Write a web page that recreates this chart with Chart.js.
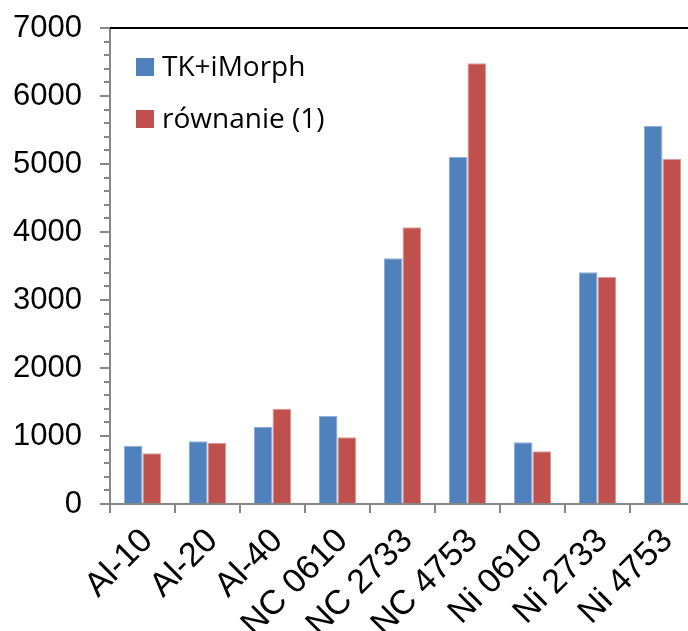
<!DOCTYPE html>
<html>
<head>
<meta charset="utf-8">
<script src="https://cdn.jsdelivr.net/npm/chart.js@4"></script>
<style>
  html, body { margin: 0; padding: 0; background: #fff; overflow: hidden; }
  #wrap { width: 688px; height: 631px; overflow: hidden; }
</style>
</head>
<body>
<div id="wrap"><canvas id="chart" width="700" height="631"></canvas></div>
<script>
// data
const categories = ["Al-10", "Al-20", "Al-40", "NC 0610", "NC 2733", "NC 4753", "Ni 0610", "Ni 2733", "Ni 4753"];
const tkMorph = [857, 922, 1132, 1294, 3613, 5103, 907, 3407, 5559];
const rownanie = [745, 901, 1401, 981, 4069, 6481, 775, 3338, 5078];
const seriesNames = ["TK+iMorph", "równanie (1)"];
const yTicks = [0, 1000, 2000, 3000, 4000, 5000, 6000, 7000];

const axisGrey = "#868686";
const tickFont = { family: "'Liberation Sans', Arial, sans-serif", size: 31 };

// minor ticks on y axis, top frame line and the legend inside the plot
const extras = {
  id: "extras",
  afterDraw(chart) {
    const ctx = chart.ctx;
    const area = chart.chartArea;
    const y = chart.scales.y;
    ctx.save();
    ctx.strokeStyle = axisGrey;
    ctx.lineWidth = 2;
    for (let v = 0; v <= 7000; v += 200) {
      if (v % 1000 === 0) continue;
      const py = Math.round(y.getPixelForValue(v));
      ctx.beginPath();
      ctx.moveTo(area.left - 6, py);
      ctx.lineTo(area.left, py);
      ctx.stroke();
    }
    // top frame
    ctx.strokeStyle = "#000";
    ctx.lineWidth = 2;
    ctx.beginPath();
    ctx.moveTo(area.left, area.top);
    ctx.lineTo(chart.width, area.top);
    ctx.stroke();

    // legend
    ctx.font = "28px 'Open Sans', sans-serif";
    ctx.textBaseline = "middle";
    chart.data.datasets.forEach((ds, i) => {
      const bx = area.left + 26;
      const by = area.top + 30 + i * 52;
      ctx.fillStyle = ds.backgroundColor;
      ctx.fillRect(bx, by, 18, 18);
      ctx.fillStyle = "#000";
      ctx.fillText(ds.label, bx + 26, by + 10);
    });
    ctx.restore();
  }
};

new Chart(document.getElementById("chart"), {
  type: "bar",
  data: {
    labels: categories,
    datasets: [
      { label: seriesNames[0], data: tkMorph, backgroundColor: "#4F81BD", borderColor: "#8EAEDB", borderWidth: 1, borderSkipped: "bottom" },
      { label: seriesNames[1], data: rownanie, backgroundColor: "#C0504D", borderColor: "#DE9A98", borderWidth: 1, borderSkipped: "bottom" }
    ]
  },
  options: {
    responsive: false,
    animation: false,
    devicePixelRatio: 1,
    layout: { padding: { top: 28, right: 5, left: 0, bottom: 0 } },
    datasets: { bar: { barPercentage: 1, categoryPercentage: 0.57 } },
    plugins: { legend: { display: false }, tooltip: { enabled: false } },
    scales: {
      x: {
        grid: { drawOnChartArea: false, offset: true, tickLength: 9, color: axisGrey, lineWidth: 2 },
        border: { color: axisGrey, width: 2 },
        ticks: { color: "#000", font: { family: tickFont.family, size: 34 }, minRotation: 45, maxRotation: 45, padding: 8, labelOffset: 5 },
        afterFit(scale) { scale.height = 127; }
      },
      y: {
        min: 0,
        max: 7000,
        afterBuildTicks(scale) { scale.ticks = yTicks.map(v => ({ value: v })); },
        grid: { drawOnChartArea: false, tickLength: 10, color: axisGrey, lineWidth: 2 },
        border: { color: axisGrey, width: 2 },
        ticks: { color: "#000", font: tickFont, padding: 18, callback: v => String(v) },
        afterFit(scale) {
          scale.width = 110;
          scale.paddingTop = 0;
          scale.paddingBottom = 0;
        }
      }
    }
  },
  plugins: [extras]
});
</script>
</body>
</html>
